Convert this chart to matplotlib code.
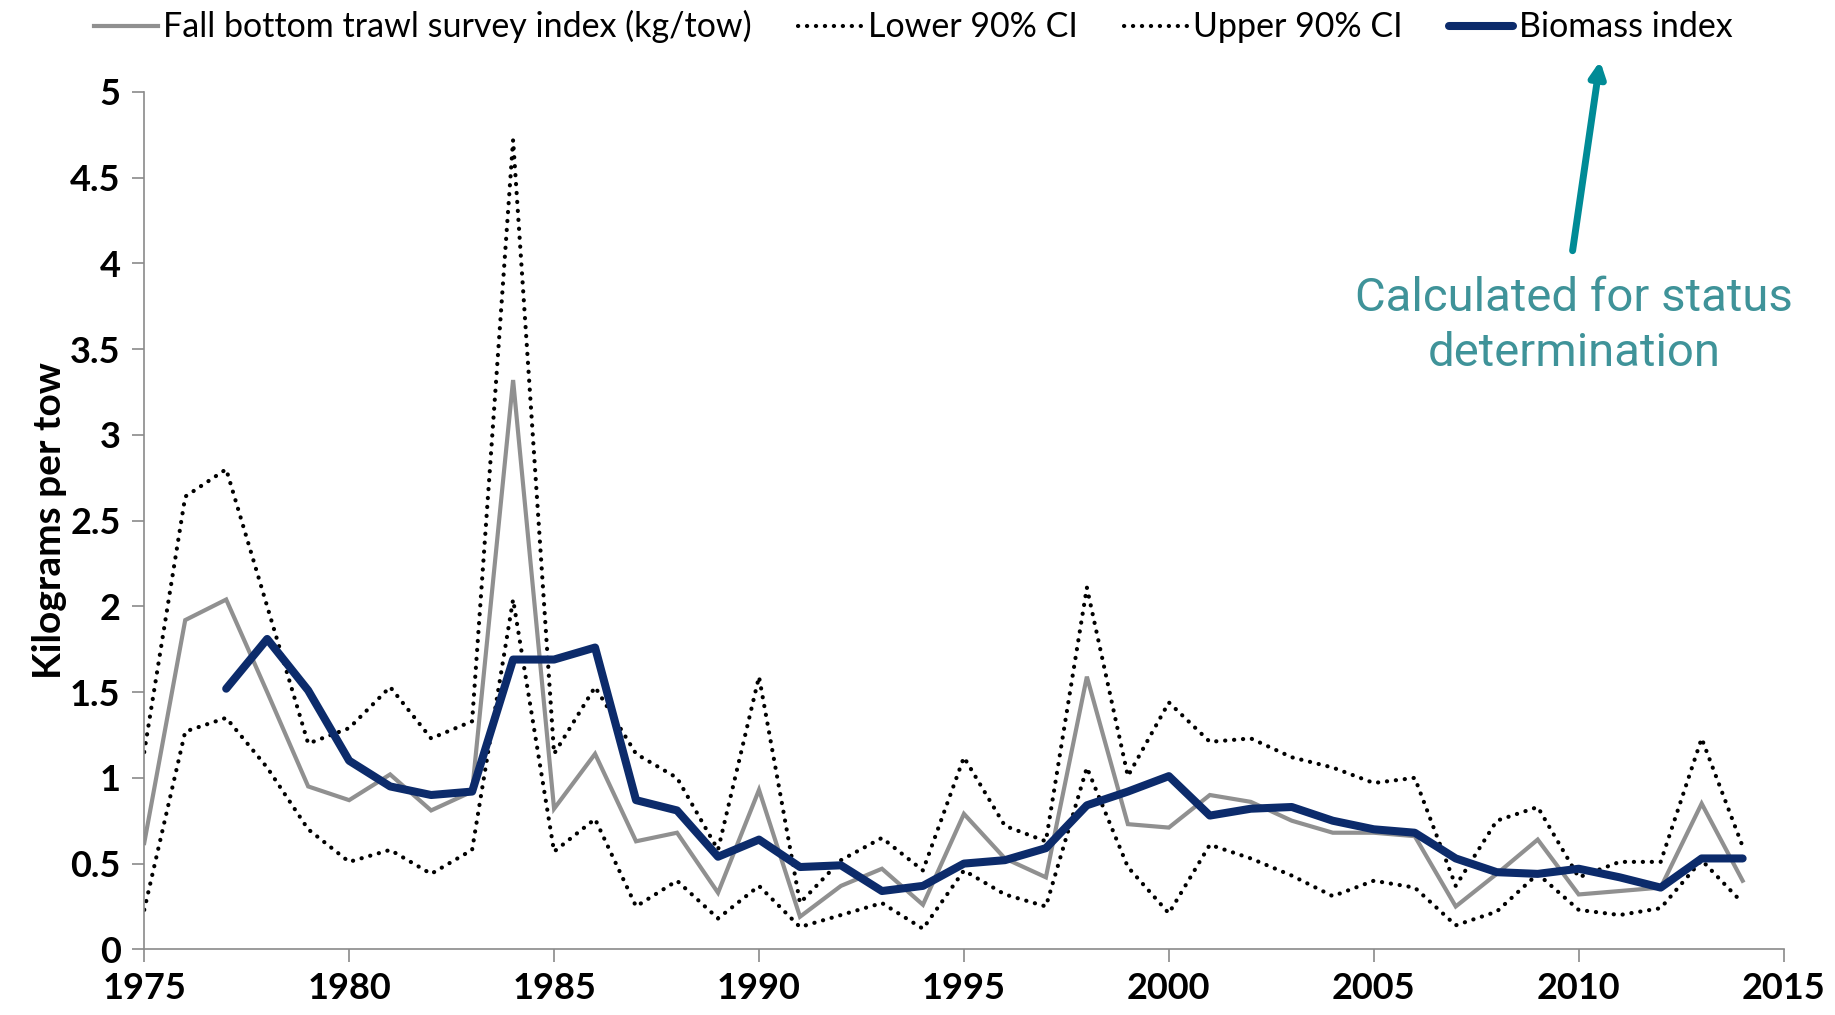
import numpy as np
import matplotlib
matplotlib.use("Agg")
import matplotlib.pyplot as plt

years = list(range(1975, 2015))

# fall bottom trawl survey index (kg/tow)
survey = [0.62, 1.92, 2.04, 1.50, 0.95, 0.87, 1.02, 0.81, 0.92, 3.32,
          0.82, 1.14, 0.63, 0.68, 0.33, 0.93, 0.19, 0.37, 0.47, 0.26,
          0.79, 0.53, 0.42, 1.59, 0.73, 0.71, 0.90, 0.86, 0.75, 0.68,
          0.68, 0.66, 0.25, 0.44, 0.64, 0.32, 0.34, 0.36, 0.85, 0.40]

lower_ci = [0.23, 1.27, 1.35, 1.06, 0.70, 0.51, 0.58, 0.44, 0.58, 2.04,
            0.57, 0.76, 0.25, 0.40, 0.18, 0.37, 0.13, 0.20, 0.27, 0.12,
            0.46, 0.32, 0.25, 1.06, 0.48, 0.21, 0.61, 0.53, 0.43, 0.31,
            0.40, 0.36, 0.14, 0.22, 0.44, 0.23, 0.20, 0.24, 0.52, 0.27]

upper_ci = [1.15, 2.64, 2.80, 2.00, 1.20, 1.29, 1.53, 1.23, 1.33, 4.72,
            1.14, 1.53, 1.14, 1.00, 0.58, 1.59, 0.27, 0.52, 0.65, 0.46,
            1.12, 0.72, 0.63, 2.11, 1.01, 1.44, 1.21, 1.23, 1.12, 1.06,
            0.97, 1.00, 0.37, 0.75, 0.83, 0.42, 0.51, 0.51, 1.23, 0.60]

bio_years = list(range(1977, 2015))
biomass = [1.52, 1.81, 1.51, 1.10, 0.95, 0.90, 0.92, 1.69, 1.69, 1.76,
           0.87, 0.81, 0.54, 0.64, 0.48, 0.49, 0.34, 0.37, 0.50, 0.52,
           0.59, 0.84, 0.92, 1.01, 0.78, 0.82, 0.83, 0.75, 0.70, 0.68,
           0.53, 0.45, 0.44, 0.47, 0.42, 0.36, 0.53, 0.53]

y_ticks = [0, 0.5, 1, 1.5, 2, 2.5, 3, 3.5, 4, 4.5, 5]
y_labels = ['0', '0.5', '1', '1.5', '2', '2.5', '3', '3.5', '4', '4.5', '5']
x_ticks = list(range(1975, 2016, 5))

gray = '#909090'
navy = '#0c2b6b'
teal = '#3f9399'

plt.rcParams['font.family'] = ['Lato', 'DejaVu Sans']

fig = plt.figure(figsize=(18.35, 10.15), dpi=100)
ax = fig.add_axes([0.0786, 0.0647, 0.8934, 0.8447])

# round dots for the CI lines
dot = dict(color='black', lw=3.0, linestyle=(0, (0.05, 2.1)),
           dash_capstyle='round')
l1, = ax.plot(years, survey, color=gray, lw=3.0, solid_joinstyle='miter')
l2, = ax.plot(years, lower_ci, **dot)
l3, = ax.plot(years, upper_ci, **dot)
l4, = ax.plot(bio_years, biomass, color=navy, lw=5.8,
              solid_capstyle='round', solid_joinstyle='round')

ax.set_xlim(1975, 2015)
ax.set_ylim(0, 5)
ax.set_xticks(x_ticks)
ax.set_yticks(y_ticks)
ax.set_yticklabels(y_labels)

for s in ['top', 'right']:
    ax.spines[s].set_visible(False)
for s in ['left', 'bottom']:
    ax.spines[s].set_color('#8a8a8a')
    ax.spines[s].set_linewidth(1.2)
ax.tick_params(axis='both', direction='out', length=9, width=1.2,
               color='#8a8a8a', labelsize=26)
ax.tick_params(axis='x', pad=7)
ax.tick_params(axis='y', pad=8)
for lab in ax.get_xticklabels() + ax.get_yticklabels():
    lab.set_fontweight('bold')

ax.set_ylabel('Kilograms per tow', fontsize=28, fontweight='bold', labelpad=2)

fig.legend([l1, l2, l3, l4],
           ['Fall bottom trawl survey index (kg/tow)', 'Lower 90% CI',
            'Upper 90% CI', 'Biomass index'],
           loc='upper center', bbox_to_anchor=(0.4975, 1.02), ncol=4,
           frameon=False, fontsize=24.5, handlelength=1.9,
           handletextpad=0.15, columnspacing=1.35)

fig.text(0.858, 0.728, 'Calculated for status\ndetermination', color=teal,
         fontsize=34, ha='center', va='top', linespacing=1.3,
         family=['Roboto', 'DejaVu Sans'])
ax.annotate('', xy=(0.872, 0.940), xytext=(0.857, 0.753),
            xycoords='figure fraction', textcoords='figure fraction',
            arrowprops=dict(arrowstyle='-|>,head_length=0.9,head_width=0.45',
                            color='#008b96', lw=5, shrinkA=0, shrinkB=0),
            annotation_clip=False)

fig.savefig('out.png', dpi=100)
